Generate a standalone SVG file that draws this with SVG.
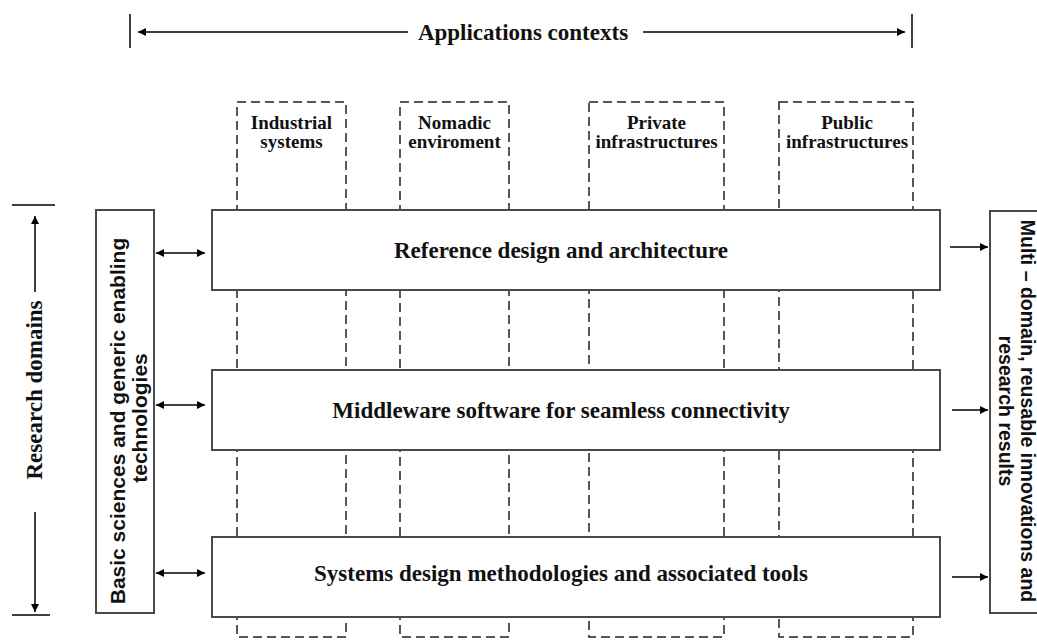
<svg xmlns="http://www.w3.org/2000/svg" width="1037" height="642" viewBox="0 0 1037 642">
<defs>
<style>
.ln{stroke:#000;stroke-width:1.5;fill:none}
.bx{fill:#fff;stroke:#4a4a4a;stroke-width:2}
.dash{fill:none;stroke:#222;stroke-width:1.5;stroke-dasharray:9 5}
.serif{font-family:"Liberation Serif","Times New Roman",serif;font-weight:bold;fill:#111}
.sans{font-family:"Liberation Sans",Arial,sans-serif;font-weight:bold;fill:#111}
.main{font-size:23px}
.col{font-size:19px}
.side{font-size:21px}
.side2{font-size:19.5px}
</style>
<marker id="ah" viewBox="0 0 10 10" refX="10" refY="5" markerWidth="10" markerHeight="8" markerUnits="userSpaceOnUse" orient="auto-start-reverse">
<path d="M0,0 L10,5 L0,10 z" fill="#000"/>
</marker>
</defs>
<rect width="1037" height="642" fill="#fff"/>

<g id="columns">
<g id="col-industrial">
<rect class="dash" x="237" y="102" width="109" height="535"/>
<text class="serif col" x="291.5" y="129" text-anchor="middle">Industrial</text>
<text class="serif col" x="291.5" y="148" text-anchor="middle">systems</text>
</g>
<g id="col-nomadic">
<rect class="dash" x="400" y="102" width="109" height="535"/>
<text class="serif col" x="454.5" y="129" text-anchor="middle">Nomadic</text>
<text class="serif col" x="454.5" y="148" text-anchor="middle">enviroment</text>
</g>
<g id="col-private">
<rect class="dash" x="589" y="102" width="135" height="535"/>
<text class="serif col" x="656.5" y="129" text-anchor="middle">Private</text>
<text class="serif col" x="656.5" y="148" text-anchor="middle">infrastructures</text>
</g>
<g id="col-public">
<rect class="dash" x="779" y="102" width="134" height="535"/>
<text class="serif col" x="847" y="129" text-anchor="middle">Public</text>
<text class="serif col" x="847" y="148" text-anchor="middle">infrastructures</text>
</g>
</g>

<g id="top-axis">
<line class="ln" x1="130" y1="14" x2="130" y2="48"/>
<line class="ln" x1="912" y1="14" x2="912" y2="48"/>
<line class="ln" x1="408" y1="32" x2="138" y2="32" marker-end="url(#ah)"/>
<line class="ln" x1="643" y1="32" x2="905" y2="32" marker-end="url(#ah)"/>
<text class="serif main" x="523" y="40" text-anchor="middle">Applications contexts</text>
</g>

<g id="left-axis">
<line class="ln" x1="12" y1="205" x2="55" y2="205"/>
<line class="ln" x1="12" y1="615" x2="50" y2="615"/>
<line class="ln" x1="35" y1="292" x2="35" y2="216" marker-end="url(#ah)"/>
<line class="ln" x1="35" y1="512" x2="35" y2="612" marker-end="url(#ah)"/>
<text class="serif main" transform="translate(42,390) rotate(-90)" text-anchor="middle">Research domains</text>
</g>

<g id="basic-sciences">
<rect class="bx" x="96" y="210" width="58" height="403"/>
<text class="sans side" transform="translate(125,421) rotate(-90)" text-anchor="middle">Basic sciences and generic enabling</text>
<text class="sans side" transform="translate(147,418) rotate(-90)" text-anchor="middle">technologies</text>
</g>

<g id="reference-design">
<rect class="bx" x="212" y="210" width="728" height="80"/>
<text class="serif main" x="561" y="258" text-anchor="middle">Reference design and architecture</text>
</g>

<g id="middleware">
<rect class="bx" x="212" y="370" width="728" height="80"/>
<text class="serif main" x="561" y="418" text-anchor="middle">Middleware software for seamless connectivity</text>
</g>

<g id="systems-design">
<rect class="bx" x="212" y="537" width="728" height="80"/>
<text class="serif main" x="561" y="581" text-anchor="middle">Systems design methodologies and associated tools</text>
</g>

<g id="results">
<rect class="bx" x="990" y="211" width="60" height="402"/>
<text class="sans side2" transform="translate(1021,411) rotate(90)" text-anchor="middle">Multi – domain, reusable innovations and</text>
<text class="sans side2" transform="translate(999,411) rotate(90)" text-anchor="middle">research results</text>
</g>

<g id="connectors">
<line class="ln" x1="156" y1="253" x2="205" y2="253" marker-start="url(#ah)" marker-end="url(#ah)"/>
<line class="ln" x1="156" y1="405" x2="205" y2="405" marker-start="url(#ah)" marker-end="url(#ah)"/>
<line class="ln" x1="156" y1="573" x2="205" y2="573" marker-start="url(#ah)" marker-end="url(#ah)"/>
<line class="ln" x1="950" y1="247" x2="988" y2="247" marker-end="url(#ah)"/>
<line class="ln" x1="952" y1="410" x2="988" y2="410" marker-end="url(#ah)"/>
<line class="ln" x1="952" y1="577" x2="988" y2="577" marker-end="url(#ah)"/>
</g>
</svg>
